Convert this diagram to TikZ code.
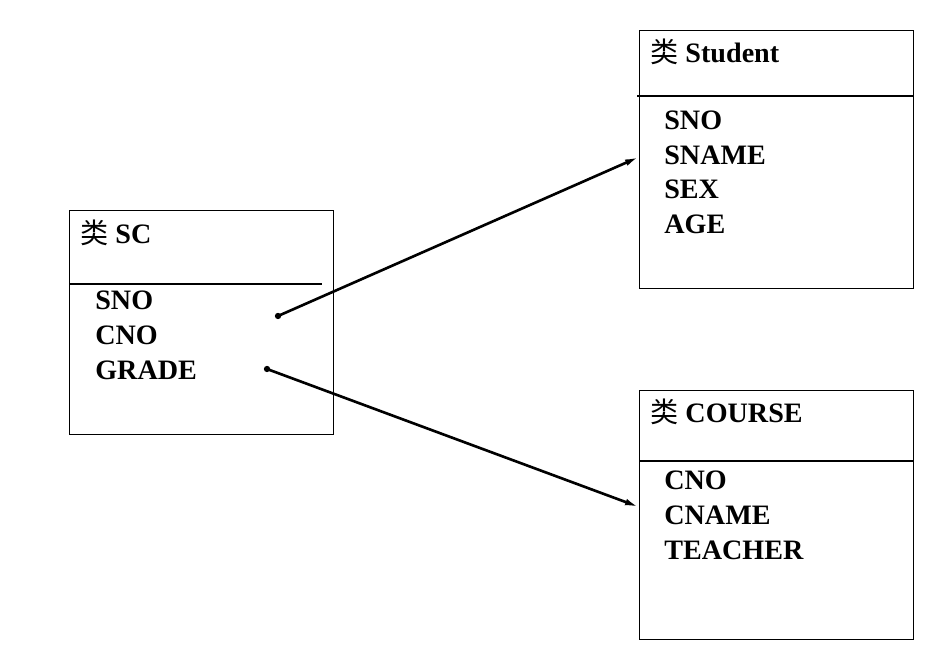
\documentclass[tikz,border=0pt]{standalone}
\usepackage{fontspec}
\setmainfont{Liberation Serif}
\newfontfamily\cjkfont{Noto Sans CJK SC}
\usepackage{tikz}
\usetikzlibrary{arrows.meta}

\tikzset{
	classbox/.style={draw,line width=0.7pt,anchor=north west,inner sep=0pt},
	attr/.style={anchor=base west,inner sep=0pt,font=\fontsize{16}{19}\selectfont\bfseries},
	conn/.style={line width=1.5pt,-{Latex[length=8pt,width=3.8pt]}}
}
\newcommand{\lei}{{\cjkfont\mdseries\fontsize{16}{19}\selectfont 类}\hspace{4pt}}

\begin{document}
\begin{tikzpicture}[x=0.02cm,y=-0.02cm]
			\useasboundingbox (0,0) rectangle (946,661);
			
			% class boxes
			\node[classbox,minimum width=5.28cm,minimum height=4.48cm] (sc) at (69,210) {};
			\node[classbox,minimum width=5.48cm,minimum height=5.16cm] (student) at (639,30) {};
			\node[classbox,minimum width=5.48cm,minimum height=4.98cm] (course) at (639,390) {};
			
			% separators
			\draw[line width=0.7pt] (sc.west |- 0,284) -- (322,284);
			\draw[line width=0.7pt] (637,96) -- (student.east |- 0,96);
			\draw[line width=0.7pt] (course.west |- 0,461) -- (course.east |- 0,461);
			
			% titles
			\node[attr] (sc-title) at (80,244) {\lei SC};
			\node[attr] (student-title) at (650,63) {\lei Student};
			\node[attr] (course-title) at (650,423) {\lei COURSE};
			
			% attributes
			\foreach \name [count=\i from 0] in {SNO,CNO,GRADE}
				\node[attr] (sc-\i) at (95,310+35*\i) {\name};
			\foreach \name [count=\i from 0] in {SNO,SNAME,SEX,AGE}
				\node[attr] (student-\i) at (664,130+34.5*\i) {\name};
			\foreach \name [count=\i from 0] in {CNO,CNAME,TEACHER}
				\node[attr] (course-\i) at (664,490+35*\i) {\name};
			
			% references
			\coordinate (sc-out1) at (278,316);
			\coordinate (sc-out2) at (267,369);
			\coordinate (student-in) at (student.west |- 0,157);
			\coordinate (course-in) at (course.west |- 0,507);
			\fill (sc-out1) circle (1.8pt);
			\fill (sc-out2) circle (1.8pt);
			\draw[conn] (sc-out1) -- (student-in);
			\draw[conn] (sc-out2) -- (course-in);
		\end{tikzpicture}
\end{document}
